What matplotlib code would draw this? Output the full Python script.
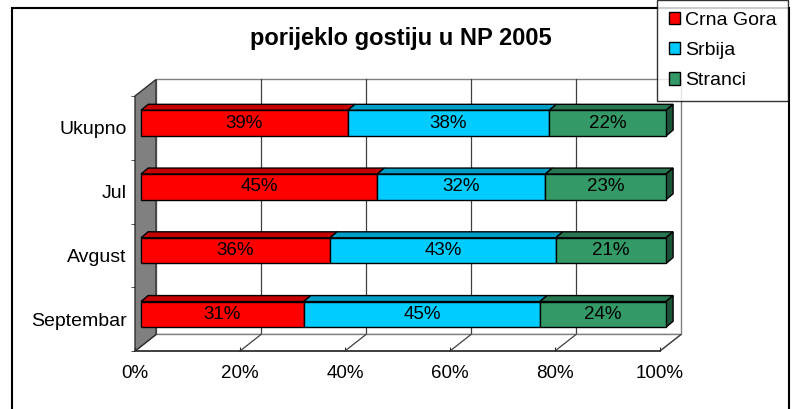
import numpy as np
import matplotlib
matplotlib.use('Agg')
import matplotlib.pyplot as plt
from matplotlib.patches import Polygon, Rectangle

plt.rcParams['font.family'] = ['Liberation Sans', 'DejaVu Sans']

# podaci
mjeseci = ['Ukupno', 'Jul', 'Avgust', 'Septembar']
serije = ['Crna Gora', 'Srbija', 'Stranci']
crna_gora = [39, 45, 36, 31]
srbija = [38, 32, 43, 45]
stranci = [22, 23, 21, 24]
boje = ['#FF0000', '#00CCFF', '#339966']
x_ticks = [0, 20, 40, 60, 80, 100]
x_labels = ['0%', '20%', '40%', '60%', '80%', '100%']

W, H = 794, 409
fig = plt.figure(figsize=[W / 100, H / 100], dpi=100)
# front plane of the plot: x 135..660 px, y 96..351 px
ax = fig.add_axes([135 / W, 1 - 351 / H, 525 / W, 255 / H])
ax.set_xlim(0, 100)
ax.set_ylim(3.5, -0.5)
for s in ax.spines.values():
    s.set_visible(False)

# dubina zida (u jedinicama podataka)
dx, dy = 4.0, -0.259
y0, y1 = -0.5, 3.5


def poly(pts, fc, ec, lw=1.0, z=1):
    p = Polygon(pts, closed=True, facecolor=fc, edgecolor=ec, linewidth=lw,
                zorder=z, clip_on=False)
    ax.add_patch(p)


# zadnji zid
poly([(dx, y0 + dy), (100 + dx, y0 + dy), (100 + dx, y1 + dy), (dx, y1 + dy)],
     'white', '#808080', 1.0, 0)
for t in x_ticks[1:-1]:
    ax.plot([t + dx, t + dx], [y0 + dy, y1 + dy], color='#404040', lw=0.9,
            zorder=0.5, clip_on=False)
# pod
poly([(0, y1), (100, y1), (100 + dx, y1 + dy), (dx, y1 + dy)], 'white',
     '#808080', 1.0, 0.6)
for t in x_ticks:
    ax.plot([t, t + dx], [y1, y1 + dy], color='#404040', lw=0.9, zorder=0.7,
            clip_on=False)
ax.plot([0, 100], [y1, y1], color='#303030', lw=1.2, zorder=0.8, clip_on=False)
# lijevi zid
poly([(0, y0), (dx, y0 + dy), (dx, y1 + dy), (0, y1)], '#808080', '#303030',
     1.0, 0.9)

# trake
vals = np.array([crna_gora, srbija, stranci], dtype=float)
shares = vals / vals.sum(axis=0) * 100
f0 = 0.286
yc = np.arange(len(mjeseci)) + f0 * dy
x_off = f0 * dx
bh = 0.403
bdx, bdy = 1.35, -0.094

left = np.zeros(len(mjeseci)) + x_off
for k in range(len(serije)):
    c = np.array(matplotlib.colors.to_rgb(boje[k]))
    ax.barh(yc, shares[k], left=left, height=bh, color=boje[k],
            edgecolor='black', linewidth=1.0, label=serije[k], zorder=3,
            clip_on=False)
    for i in range(len(mjeseci)):
        l, w = left[i], shares[k][i]
        yt = yc[i] - bh / 2
        poly([(l, yt), (l + w, yt), (l + w + bdx, yt + bdy), (l + bdx, yt + bdy)],
             c * 0.78, 'black', 1.0, 2)
        if k == len(serije) - 1:
            yb = yc[i] + bh / 2
            poly([(l + w, yt), (l + w + bdx, yt + bdy), (l + w + bdx, yb + bdy),
                  (l + w, yb)], c * 0.55, 'black', 1.0, 2)
        ax.text(l + w / 2, yc[i], '%d%%' % vals[k][i], ha='center',
                va='center', fontsize=13.5, zorder=4)
    left = left + shares[k]

ax.set_xticks(x_ticks)
ax.set_xticklabels(x_labels, fontsize=13.5)
ax.set_yticks(range(len(mjeseci)))
ax.set_yticklabels(mjeseci, fontsize=14)
ax.set_yticks(np.arange(-0.5, 4, 1), minor=True)
ax.tick_params(axis='y', which='major', length=0, pad=6)
ax.tick_params(axis='y', which='minor', length=3, color='#303030')
ax.tick_params(axis='x', which='major', length=3, direction='in', pad=10,
               color='#303030')

fig.text(401 / W, 1 - 38 / H, 'porijeklo gostiju u NP 2005', ha='center',
         va='center', fontsize=17, fontweight='bold')

fig.patches.append(Rectangle((12 / W, -0.05), 777 / W, 1.05 - 8 / H,
                             transform=fig.transFigure, fill=False,
                             edgecolor='black', linewidth=1.5))

leg = fig.legend(loc='upper left', bbox_to_anchor=(657 / W, 1.0),
                 fontsize=14, frameon=True, fancybox=False, edgecolor='black',
                 handlelength=0.6, handleheight=0.6, handletextpad=0.25,
                 borderpad=0.6, labelspacing=0.68, borderaxespad=0)
leg.get_frame().set_linewidth(1.0)

fig.savefig('out.png', dpi=100)
